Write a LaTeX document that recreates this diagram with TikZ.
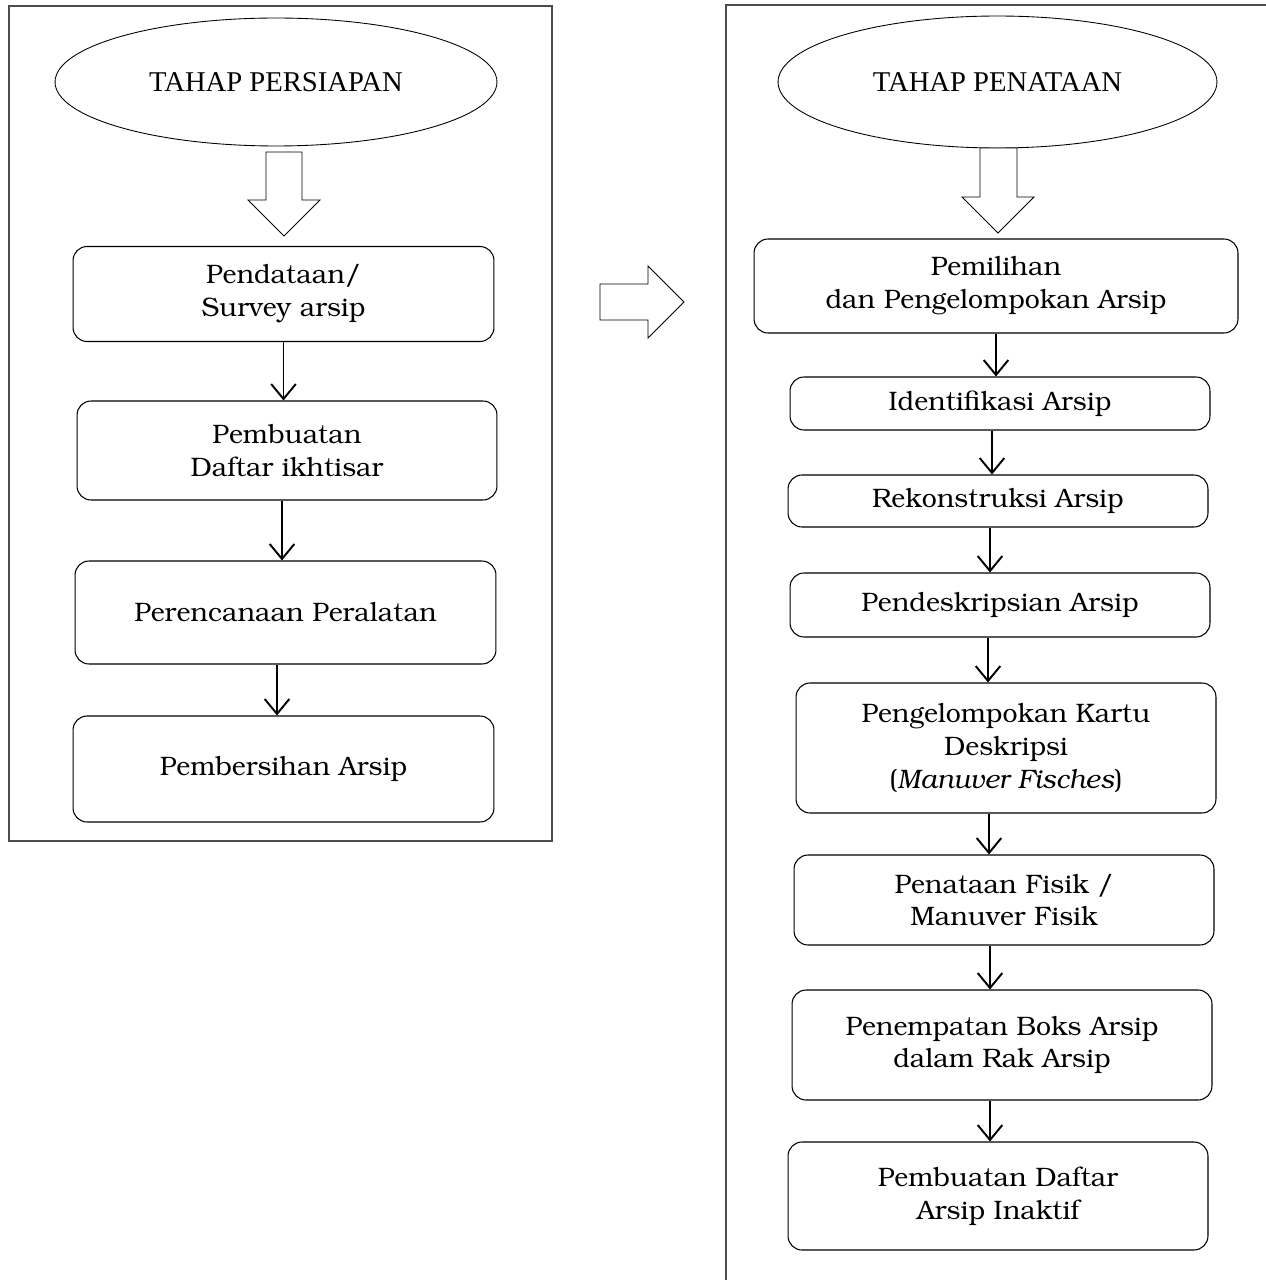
\documentclass[tikz,border=0pt]{standalone}
\usepackage[T1]{fontenc}
\usepackage{fontspec}
\usepackage{tikz}
\usetikzlibrary{shapes.geometric,arrows.meta}

\newfontfamily\timesfont{Liberation Serif}
\newcommand{\bkfont}{\fontencoding{T1}\fontfamily{pbk}\selectfont}

\tikzset{
  stage/.style={ellipse, draw, line width=0.5pt, inner sep=0pt,
    font=\timesfont\fontsize{16.3}{19}\selectfont},
  stepbox/.style={draw, line width=0.6pt, rounded corners=0.28cm, align=center,
    inner sep=0pt, font=\bkfont\fontsize{15.2}{18.6}\selectfont},
  flow/.style={-{Straight Barb[length=8.5pt,width=14pt]}, line width=1.1pt},
  bigarrow/.style={draw, line width=0.5pt, fill=white},
  frame/.style={draw=black!70, line width=0.7pt}
}

\begin{document}
\begin{tikzpicture}[x=0.02cm,y=-0.02cm]
\useasboundingbox (0,0) rectangle (1265,1280);
% frames
\draw[frame] (9,6) rectangle (552,841);
\draw[frame] (726,1300) -- (726,5) -- (1275,5);

% left column
\node[stage, minimum width=8.84cm, minimum height=2.56cm] (s1) at (276,82) {TAHAP PERSIAPAN};
\draw[bigarrow] (266,152) -- (302,152) -- (302,200) -- (320,200) -- (284,236)
   -- (248,200) -- (266,200) -- cycle;
\node[stepbox, minimum width=8.42cm, minimum height=1.9cm] (l1) at (283.5,294) {Pendataan/\\Survey arsip};
\node[stepbox, minimum width=8.4cm, minimum height=1.98cm] (l2) at (287,450.5) {Pembuatan\\Daftar ikhtisar};
\node[stepbox, minimum width=8.42cm, minimum height=2.06cm] (l3) at (285.5,612.5) {Perencanaan Peralatan};
\node[stepbox, minimum width=8.42cm, minimum height=2.12cm] (l4) at (283.5,769) {Pembersihan Arsip};
\draw[flow] (l1.south) -- (l1.south |- l2.north);
\draw[flow] ([xshift=-0.1cm]l2.south) -- ([xshift=-0.1cm]l2.south |- l3.north);
\draw[flow] ([xshift=-0.17cm]l3.south) -- ([xshift=-0.17cm]l3.south |- l4.north);

% middle arrow
\draw[bigarrow] (600,284) -- (648,284) -- (648,266) -- (684,302) -- (648,338)
   -- (648,320) -- (600,320) -- cycle;

% right column
\node[stage, minimum width=8.78cm, minimum height=2.64cm] (s2) at (997.5,82) {TAHAP PENATAAN};
\draw[bigarrow] (980,148) -- (1017,148) -- (1017,197) -- (1034,197) -- (998,233)
   -- (962,197) -- (980,197) -- cycle;
\node[stepbox, minimum width=9.68cm, minimum height=1.88cm] (r1) at (996,286) {Pemilihan\\dan Pengelompokan Arsip};
\node[stepbox, minimum width=8.4cm, minimum height=1.06cm] (r2) at (1000,403.5) {Identifikasi Arsip};
\node[stepbox, minimum width=8.4cm, minimum height=1.04cm] (r3) at (998,501) {Rekonstruksi Arsip};
\node[stepbox, minimum width=8.4cm, minimum height=1.28cm] (r4) at (1000,605) {Pendeskripsian Arsip};
\node[stepbox, minimum width=8.4cm, minimum height=2.6cm] (r5) at (1006,748) {Pengelompokan Kartu\\Deskripsi\\(\textit{Manuver Fisches})};
\node[stepbox, minimum width=8.4cm, minimum height=1.8cm] (r6) at (1004,900) {Penataan Fisik /\\Manuver Fisik};
\node[stepbox, minimum width=8.4cm, minimum height=2.2cm] (r7) at (1002,1045) {Penempatan Boks Arsip\\dalam Rak Arsip};
\node[stepbox, minimum width=8.4cm, minimum height=2.16cm] (r8) at (998,1196) {Pembuatan Daftar\\Arsip Inaktif};
\draw[flow] (r1.south) -- (r1.south |- r2.north);
\draw[flow] ([xshift=-0.16cm]r2.south) -- ([xshift=-0.16cm]r2.south |- r3.north);
\draw[flow] ([xshift=-0.16cm]r3.south) -- ([xshift=-0.16cm]r3.south |- r4.north);
\draw[flow] ([xshift=-0.24cm]r4.south) -- ([xshift=-0.24cm]r4.south |- r5.north);
\draw[flow] ([xshift=-0.34cm]r5.south) -- ([xshift=-0.34cm]r5.south |- r6.north);
\draw[flow] ([xshift=-0.28cm]r6.south) -- ([xshift=-0.28cm]r6.south |- r7.north);
\draw[flow] ([xshift=-0.24cm]r7.south) -- ([xshift=-0.24cm]r7.south |- r8.north);
\end{tikzpicture}
\end{document}
